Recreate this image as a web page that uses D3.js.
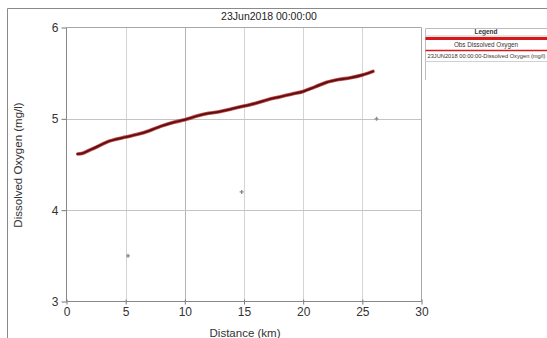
<!DOCTYPE html>
<html>
<head>
<meta charset="utf-8">
<script src="https://cdn.jsdelivr.net/npm/d3@7"></script>
<style>
  html, body { margin: 0; padding: 0; background: #fff; }
  svg { display: block; font-family: "Liberation Sans", Arial, sans-serif; }
</style>
</head>
<body>
<svg id="chart" width="547" height="338"></svg>
<script>
// Modelled dissolved oxygen profile along the reach
const modelDistance = [0.95, 1.3, 2, 3, 3.5, 4, 5, 6, 7, 8, 9, 10, 11, 12, 13, 14, 15, 16, 17, 18, 19, 20, 21, 22, 23, 24, 25, 25.9];
const modelOxygen   = [4.615, 4.62, 4.66, 4.72, 4.75, 4.77, 4.80, 4.83, 4.87, 4.92, 4.96, 4.99, 5.03, 5.06, 5.08, 5.11, 5.14, 5.17, 5.21, 5.24, 5.27, 5.30, 5.35, 5.40, 5.43, 5.45, 5.48, 5.52];

// Observed samples
const obsDistance = [5.2, 14.8, 26.2];
const obsOxygen   = [3.5, 4.2, 5.0];

const xTicks = [0, 5, 10, 15, 20, 25, 30];
const yTicks = [3, 4, 5, 6];
const titleText = "23Jun2018 00:00:00";
const legendTitle = "Legend";
const legendItems = ["Obs Dissolved Oxygen", "23JUN2018 00:00:00-Dissolved Oxygen (mg/l)"];

const svg = d3.select("#chart");
const W = 547, H = 338;
const plot = { left: 66.5, right: 421.5, top: 27.5, bottom: 301.5 };

const x = d3.scaleLinear().domain([0, 30]).range([plot.left, plot.right]);
const y = d3.scaleLinear().domain([3, 6]).range([plot.bottom, plot.top]);

svg.append("rect").attr("width", W).attr("height", H).attr("fill", "#fff");

// outer frame
svg.append("path")
  .attr("d", `M7.5,${H} V8.5 H${W}`)
  .attr("fill", "none").attr("stroke", "#8a8a8a").attr("stroke-width", 1);

// title
svg.append("text").attr("x", 269).attr("y", 19.5).attr("text-anchor", "middle")
  .attr("font-size", 10.5).attr("fill", "#222").text(titleText);

// grid
const g = svg.append("g");
g.selectAll(".vg").data(xTicks.filter(d => d > 0 && d < 30)).join("line")
  .attr("x1", d => Math.round(x(d)) + 0.5).attr("x2", d => Math.round(x(d)) + 0.5)
  .attr("y1", plot.top).attr("y2", plot.bottom)
  .attr("stroke", d => d === 10 ? "#b4b4b4" : "#d4d4d4").attr("stroke-width", 1);
g.selectAll(".hg").data([4, 5]).join("line")
  .attr("x1", plot.left).attr("x2", plot.right)
  .attr("y1", d => Math.round(y(d)) + 0.5).attr("y2", d => Math.round(y(d)) + 0.5)
  .attr("stroke", "#c4c4c4").attr("stroke-width", 1);

// plot border (top and right)
svg.append("path")
  .attr("d", `M${plot.left},${plot.top} H${plot.right} V${plot.bottom}`)
  .attr("fill", "none").attr("stroke", "#a8a8a8").attr("stroke-width", 1);

// y axis with minor ticks every 0.1
const yAxis = d3.axisLeft(y).tickValues(yTicks).tickSize(5).tickPadding(3).tickFormat(d3.format("d"));
const yMinor = d3.axisLeft(y).tickValues(d3.range(30, 61).map(d => d / 10)).tickSize(2).tickFormat("");
const ya = svg.append("g").attr("transform", `translate(${plot.left},0)`);
ya.call(yMinor);
ya.call(yAxis);
ya.selectAll("path.domain").remove();
ya.selectAll("line").attr("stroke", "#777");
ya.selectAll("text").attr("font-size", 12).attr("fill", "#333")
  .attr("font-family", "Liberation Sans, Arial, sans-serif");
ya.append("line").attr("x1", 0).attr("x2", 0).attr("y1", plot.top).attr("y2", plot.bottom)
  .attr("stroke", "#888");

// x axis with minor ticks every 1 km
const xAxis = d3.axisBottom(x).tickValues(xTicks).tickSize(3).tickPadding(3).tickFormat(d3.format("d"));
const xMinor = d3.axisBottom(x).tickValues(d3.range(0, 31)).tickSize(2).tickFormat("");
const xa = svg.append("g").attr("transform", `translate(0,${plot.bottom})`);
xa.call(xMinor);
xa.call(xAxis);
xa.selectAll("path.domain").remove();
xa.selectAll("line").attr("stroke", "#777").attr("y1", -2);
xa.selectAll("text").attr("font-size", 12).attr("fill", "#333")
  .attr("font-family", "Liberation Sans, Arial, sans-serif");
xa.append("line").attr("x1", plot.left).attr("x2", plot.right).attr("y1", 0).attr("y2", 0)
  .attr("stroke", "#888");

// axis titles
svg.append("text").attr("x", 245).attr("y", 336.5).attr("text-anchor", "middle")
  .attr("font-size", 11.5).attr("fill", "#333").text("Distance (km)");
svg.append("text").attr("transform", `translate(22,165) rotate(-90)`).attr("text-anchor", "middle")
  .attr("font-size", 11.5).attr("fill", "#333").text("Dissolved Oxygen (mg/l)");

// modelled profile: red halo with a dark core
const model = modelDistance.map((d, i) => [d, modelOxygen[i]]);
const line = d3.line().x(d => x(d[0])).y(d => y(d[1])).curve(d3.curveMonotoneX);
svg.append("path").datum(model).attr("d", line)
  .attr("fill", "none").attr("stroke", "#c42a2a").attr("stroke-width", 3.6).attr("stroke-opacity", 0.85)
  .attr("stroke-linecap", "round");
svg.append("path").datum(model).attr("d", line)
  .attr("fill", "none").attr("stroke", "#5c1212").attr("stroke-width", 2)
  .attr("stroke-linecap", "round");

// observed samples as small plus markers
const obs = obsDistance.map((d, i) => [d, obsOxygen[i]]);
const sym = d3.symbol().type(d3.symbolCross).size(9);
svg.selectAll(".obs").data(obs).join("path")
  .attr("transform", d => `translate(${x(d[0])},${y(d[1])})`)
  .attr("d", sym).attr("fill", "#8a8a8a");

// legend
const lg = svg.append("g");
const lx = 425.5;
lg.append("path").attr("d", `M${W},28.5 H${lx} V80`).attr("fill", "none")
  .attr("stroke", "#bdbdbd").attr("stroke-width", 1);
lg.append("text").attr("x", 486).attr("y", 34).attr("text-anchor", "middle")
  .attr("font-size", 6.5).attr("font-weight", "bold").attr("fill", "#333").text(legendTitle);
lg.append("line").attr("x1", lx).attr("x2", W).attr("y1", 36).attr("y2", 36)
  .attr("stroke", "#c8c8c8");
lg.append("line").attr("x1", lx).attr("x2", W).attr("y1", 38.5).attr("y2", 38.5)
  .attr("stroke", "#d81818").attr("stroke-width", 3);
lg.append("text").attr("x", 486).attr("y", 46.5).attr("text-anchor", "middle")
  .attr("font-size", 6.3).attr("fill", "#333").text(legendItems[0]);
lg.append("line").attr("x1", lx).attr("x2", W).attr("y1", 50.5).attr("y2", 50.5)
  .attr("stroke", "#d81818").attr("stroke-width", 1.5);
lg.append("text").attr("x", 427.5).attr("y", 57.5)
  .attr("font-size", 5.8).attr("fill", "#333")
  .attr("textLength", 118).attr("lengthAdjust", "spacingAndGlyphs")
  .text(legendItems[1]);
lg.append("line").attr("x1", lx).attr("x2", W).attr("y1", 61.5).attr("y2", 61.5)
  .attr("stroke", "#d0d0d0");
</script>
</body>
</html>
